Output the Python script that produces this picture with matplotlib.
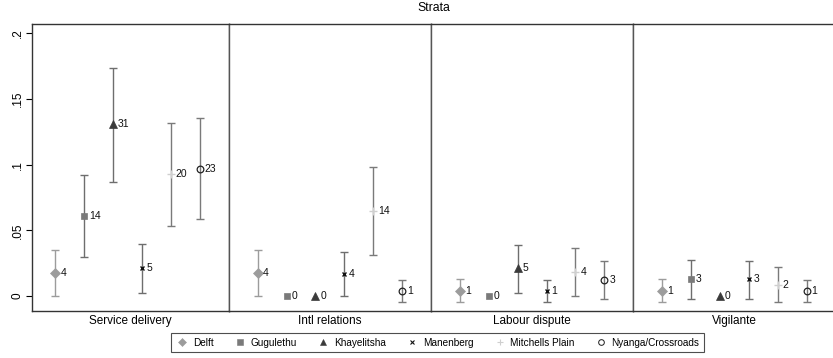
import matplotlib
matplotlib.use("Agg")
import matplotlib.pyplot as plt
import numpy as np
from matplotlib.lines import Line2D

plt.rcParams["font.family"] = ["Liberation Sans", "DejaVu Sans"]

STRATA = ["Service delivery", "Intl relations", "Labour dispute", "Vigilante"]
AREAS = ["Delft", "Gugulethu", "Khayelitsha", "Manenberg", "Mitchells Plain", "Nyanga/Crossroads"]

# proportion of events, rows = areas, cols = strata
share = np.array([
    [0.0173, 0.0173, 0.0040, 0.0040],
    [0.0609, 0.0,    0.0,    0.0127],
    [0.1308, 0.0,    0.0211, 0.0],
    [0.0211, 0.0165, 0.0040, 0.0127],
    [0.0929, 0.0650, 0.0180, 0.0084],
    [0.0967, 0.0040, 0.0122, 0.0040],
])
ci_low = np.array([
    [0.0000, 0.0000, -0.0048, -0.0048],
    [0.0295, np.nan, np.nan, -0.0023],
    [0.0868, np.nan, 0.0020, np.nan],
    [0.0020, 0.0000, -0.0048, -0.0023],
    [0.0536, 0.0312, 0.0000, -0.0043],
    [0.0589, -0.0046, -0.0020, -0.0048],
])
ci_high = np.array([
    [0.0350, 0.0350, 0.0127, 0.0127],
    [0.0924, np.nan, np.nan, 0.0274],
    [0.1734, np.nan, 0.0388, np.nan],
    [0.0394, 0.0333, 0.0122, 0.0269],
    [0.1320, 0.0985, 0.0363, 0.0218],
    [0.1353, 0.0122, 0.0264, 0.0122],
])
counts = np.array([
    [4, 4, 1, 1],
    [14, 0, 0, 3],
    [31, 0, 5, 0],
    [5, 4, 1, 3],
    [20, 14, 4, 2],
    [23, 1, 3, 1],
])

YTICKS = [0, 0.05, 0.1, 0.15, 0.2]
YTICKLABELS = ["0", ".05", ".1", ".15", ".2"]

# marker, face colour, edge colour, size, edge width, bar colour
STYLE = [
    ("D", "#9c9c9c", "#9c9c9c", 5.0, 0.5, "#9c9c9c"),
    ("s", "#7a7a7a", "#7a7a7a", 5.0, 0.5, "#6e6e6e"),
    ("^", "#3a3a3a", "#3a3a3a", 5.5, 0.5, "#6e6e6e"),
    ("x", "#111111", "#111111", 3.3, 1.0, "#6e6e6e"),
    ("+", "#cfcfcf", "#cfcfcf", 5.5, 1.0, "#7a7a7a"),
    ("o", "none", "#222222", 4.8, 0.9, "#7a7a7a"),
]

fig, axes = plt.subplots(1, 4, figsize=(8.33, 3.58), dpi=100,
                         gridspec_kw={"width_ratios": [6.8, 7, 7, 7], "wspace": 0})
fig.subplots_adjust(left=0.0388, right=1.003, top=0.932, bottom=0.1313)

x = np.arange(1, 7)
for j, ax in enumerate(axes):
    for i in range(6):
        mk, fc, ec, ms, mew, bc = STYLE[i]
        if not np.isnan(ci_low[i, j]):
            ax.errorbar(x[i], share[i, j],
                        yerr=[[share[i, j] - ci_low[i, j]], [ci_high[i, j] - share[i, j]]],
                        fmt="none", ecolor=bc, elinewidth=1.0, capsize=3.2, capthick=1.0, zorder=2)
        ax.plot(x[i], share[i, j], marker=mk, color=fc, markerfacecolor=fc,
                markeredgecolor=ec, markersize=ms, markeredgewidth=mew,
                linestyle="none", zorder=3)
        ax.annotate(str(counts[i, j]), (x[i], share[i, j]), xytext=(3.5, 0),
                    textcoords="offset points", va="center", ha="left", fontsize=7.5,
                    color="#111111")
    ax.set_ylim(-0.0114, 0.2069)
    ax.set_xlim(0.2 if j == 0 else 0, 7)
    ax.set_xticks([])
    ax.set_xlabel(STRATA[j], fontsize=8.5, labelpad=3)
    for s in ax.spines.values():
        s.set_linewidth(1.0)
        s.set_color("#333333")
    if j > 0:
        ax.spines["left"].set_color("#555555")
        ax.tick_params(axis="y", left=False, labelleft=False)
    else:
        ax.set_yticks(YTICKS)
        ax.set_yticklabels(YTICKLABELS, rotation=90, va="center", fontsize=8.5)
        ax.tick_params(axis="y", length=4, width=0.8, pad=2)

fig.text(0.5 * (0.0388 + 1.003), 0.977, "Strata", ha="center", va="center", fontsize=8.8)

handles = []
for i in range(6):
    mk, fc, ec, ms, mew, bc = STYLE[i]
    handles.append(Line2D([], [], marker=mk, color=fc, markerfacecolor=fc, markeredgecolor=ec,
                          markersize=ms * 0.85, markeredgewidth=mew * 0.8,
                          linestyle="none"))
leg = fig.legend(handles, AREAS, loc="center", bbox_to_anchor=(437.5 / 833, 1 - 342.5 / 358),
                 ncol=6, fontsize=7.2, frameon=True, fancybox=False, handletextpad=0.4,
                 columnspacing=2.0, borderpad=0.45, handlelength=1.3)
leg.get_frame().set_edgecolor("#222222")
leg.get_frame().set_linewidth(0.8)

fig.savefig("out.png", dpi=100)
